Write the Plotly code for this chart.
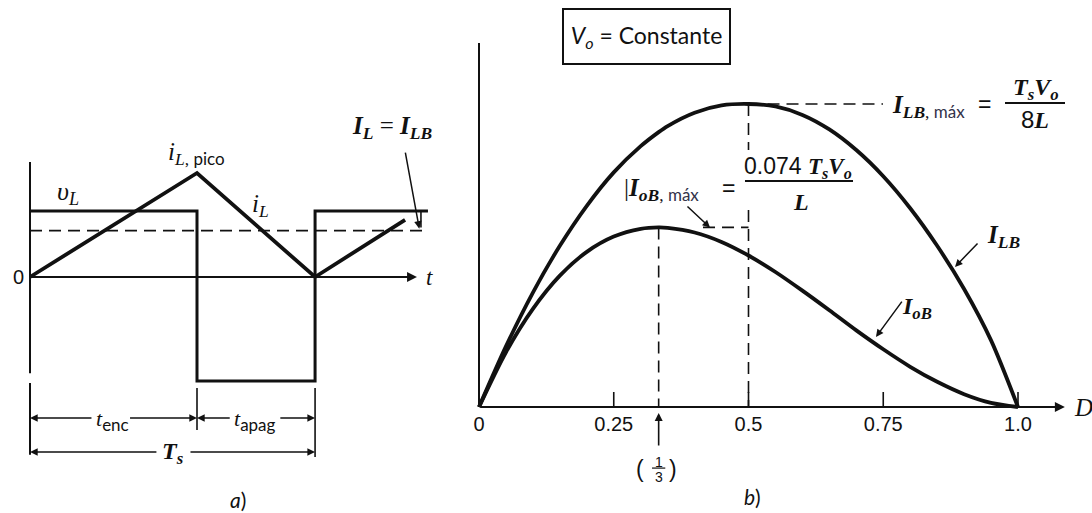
import plotly.graph_objects as go

SERIF = "Liberation Serif"
SANS = "Liberation Sans"
HUM = "Lato"
INK = "#111111"

# ---------------- panel a: inductor waveforms over one switching period ----------------
# time in units of the on-interval, amplitudes in arbitrary units
t_v = [0.0, 1.0, 1.0, 1.707, 1.707, 2.383]
v_L = [1.27, 1.27, -2.0, -2.0, 1.27, 1.27]
t_i = [0.0, 1.0, 1.707, 2.246]
i_L = [0.0, 2.0, 0.0, 1.1]
t_avg = [0.0, 2.383]
i_avg = [0.89, 0.89]
t_on_end = 1.0
t_period = 1.707

# ---------------- panel b: boundary currents vs duty ratio (units of Ts*Vo/L) ----------
duty = [0.0, 0.05, 0.10, 0.15, 0.20, 0.25, 0.30, 1 / 3, 0.35, 0.40, 0.45, 0.50,
        0.55, 0.60, 0.65, 0.70, 0.75, 0.80, 0.85, 0.90, 0.95, 1.0]
i_LB = [0.0, 0.0250, 0.0472, 0.0665, 0.0830, 0.0968, 0.1076, 0.1134, 0.1159, 0.1214, 0.1244, 0.1250,
        0.1240, 0.1205, 0.1145, 0.1060, 0.0952, 0.0820, 0.0665, 0.0487, 0.0275, 0.0]
i_oB = [0.0, 0.0226, 0.0405, 0.0542, 0.0640, 0.0703, 0.0735, 0.0741, 0.0739, 0.0720, 0.0681, 0.0625,
        0.0557, 0.0480, 0.0399, 0.0316, 0.0238, 0.0166, 0.0104, 0.0053, 0.0017, 0.0]
d_lb_max, i_lb_max = 0.5, 0.125
d_ob_max, i_ob_max = 1 / 3, 0.0741
d_ticks = [0.0, 0.25, 0.5, 0.75, 1.0]
d_tick_text = ["0", "0.25", "0.5", "0.75", "1.0"]

fig = go.Figure()

def seg(xs, ys, ref, width=2.0, dash=None, shape="linear", smoothing=1.0):
    xa, ya = ("x", "y") if ref == "a" else ("x2", "y2")
    fig.add_trace(go.Scatter(
        x=xs, y=ys, mode="lines", xaxis=xa, yaxis=ya, hoverinfo="skip",
        line=dict(color=INK, width=width, dash=dash, shape=shape, smoothing=smoothing)))

annotations = []
shapes = []

def label(x, y, text, ref, size=22, family=SERIF, xanchor="center", yanchor="middle", color=INK):
    xa, ya = ("x", "y") if ref == "a" else ("x2", "y2")
    annotations.append(dict(x=x, y=y, xref=xa, yref=ya, text=text, showarrow=False,
                            xanchor=xanchor, yanchor=yanchor,
                            font=dict(family=family, size=size, color=color)))

def arrow(xt, yt, xh, yh, ref, width=1.6, size=1.0, head=2):
    xa, ya = ("x", "y") if ref == "a" else ("x2", "y2")
    annotations.append(dict(x=xh, y=yh, ax=xt, ay=yt, xref=xa, yref=ya, axref=xa, ayref=ya,
                            text="", showarrow=True, arrowhead=head, arrowsize=size,
                            arrowwidth=width, arrowcolor=INK, standoff=0, startstandoff=0))

def line(x0, y0, x1, y1, ref, width=1.6, dash="solid"):
    xa, ya = ("x", "y") if ref == "a" else ("x2", "y2")
    shapes.append(dict(type="line", x0=x0, y0=y0, x1=x1, y1=y1, xref=xa, yref=ya,
                       line=dict(color=INK, width=width, dash=dash)))

DASH = "12px,7px"
MAX_TXT = '<span style="font-family:Lato;color:#33334a;font-size:17px">máx</span>'

# ---- panel a drawing ----
seg([0, 0], [2.21, -1.85], "a", 2.0)
seg([0, 0], [-2.04, -3.42], "a", 2.0)
arrow(0, 0, 2.317, 0, "a", width=1.8, size=1.1)
seg(t_avg, i_avg, "a", 1.8, dash=DASH)
seg(t_v, v_L, "a", 3.0)
seg(t_i, i_L, "a", 3.8)

# extension lines for the time dimensions
line(t_on_end, -2.135, t_on_end, -2.94, "a", 1.6)
line(t_period, -2.135, t_period, -3.46, "a", 1.6)
# dimension arrows
arrow(0.377, -2.712, 0, -2.712, "a", 1.4, 1.1)
arrow(0.590, -2.712, t_on_end, -2.712, "a", 1.4, 1.1)
arrow(1.205, -2.712, t_on_end, -2.712, "a", 1.4, 1.1)
arrow(1.49, -2.712, t_period, -2.712, "a", 1.4, 1.1)
arrow(0.766, -3.365, 0, -3.365, "a", 1.4, 1.1)
arrow(0.952, -3.365, t_period, -3.365, "a", 1.4, 1.1)

# average current pointer
line(2.341, 1.27, 2.341, 0.95, "a", 1.6)
arrow(2.246, 2.42, 2.331, 0.93, "a", 1.5, 1.0)

label(-0.07, 0, "0", "a", 20, SANS)
label(2.39, 0, "<i>t</i>", "a", 23)
label(0.225, 1.62, "<i>υ</i><sub><i>L</i></sub>", "a", 26)
label(0.994, 2.37, '<i>i</i><sub><i>L</i>, <span style="font-family:Lato;font-size:17px">pico</span></sub>', "a", 25)
label(1.38, 1.38, "<i>i</i><sub><i>L</i></sub>", "a", 25)
label(2.165, 2.88, "<b><i>I</i></b><sub><b><i>L</i></b></sub> = <b><i>I</i></b><sub><b><i>LB</i></b></sub>", "a", 25)
label(0.491, -2.75, '<i>t</i><sub><span style="font-family:Lato;font-size:17px">enc</span></sub>', "a", 22)
label(1.347, -2.75, '<i>t</i><sub><span style="font-family:Lato;font-size:17px">apag</span></sub>', "a", 22)
label(0.856, -3.385, "<b><i>T</i></b><sub><b><i>s</i></b></sub>", "a", 24)
label(1.246, -4.288, "<i>a</i>)", "a", 21, HUM)

# ---- panel b drawing ----
seg([0, 0], [0, 0.1502], "b", 2.0)
arrow(0, 0, 1.087, 0, "b", width=2.0, size=1.0)
tick_x, tick_y = [], []
for d in d_ticks[1:]:
    tick_x += [d, d, None]
    tick_y += [0, 0.0062, None]
seg(tick_x, tick_y, "b", 1.6)
fig.add_trace(go.Scatter(
    x=d_ticks, y=[-0.0079] * len(d_ticks), mode="text", text=d_tick_text,
    xaxis="x2", yaxis="y2", hoverinfo="skip",
    textfont=dict(family=SANS, size=20, color=INK)))

# guide lines to the maxima
line(d_lb_max, i_lb_max, 0.7495, i_lb_max, "b", 1.6, DASH)
line(d_lb_max, i_lb_max, d_lb_max, 0.106, "b", 1.6, DASH)
line(d_lb_max, 0.0813, d_lb_max, 0, "b", 1.6, DASH)
line(d_ob_max, i_ob_max, d_ob_max, 0, "b", 1.6, DASH)
line(0.4156, i_ob_max, d_lb_max, i_ob_max, "b", 1.6, DASH)

seg(duty, i_LB, "b", 3.8, shape="spline", smoothing=0.8)
seg(duty, i_oB, "b", 3.8, shape="spline", smoothing=0.8)

# I_LB,max label
label(0.7625, 0.1238, "<b><i>I</i></b><sub><b><i>LB</i></b>, " + MAX_TXT + "</sub>",
      "b", 25, xanchor="left")
label(0.937, 0.1248, "=", "b", 23, SANS)
label(1.0334, 0.1312, "<b><i>T</i></b><sub><b><i>s</i></b></sub><b><i>V</i></b><sub><b><i>o</i></b></sub>", "b", 24)
line(0.9759, 0.1254, 1.0872, 0.1254, "b", 2.0)
label(1.0315, 0.1184, '<span style="font-family:Liberation Sans">8</span><b><i>L</i></b>', "b", 24)

# I_oB,max label
label(0.2650, 0.0899, "|<b><i>I</i></b><sub><b><i>oB</i></b>, " + MAX_TXT + "</sub>",
      "b", 25, xanchor="left")
label(0.462, 0.0905, "=", "b", 23, SANS)
label(0.5918, 0.0990, '<span style="font-family:Liberation Sans">0.074 </span><b><i>T</i></b><sub><b><i>s</i></b></sub><b><i>V</i></b><sub><b><i>o</i></b></sub>', "b", 23)
line(0.4935, 0.0932, 0.6939, 0.0932, "b", 2.0)
label(0.5974, 0.0846, "<b><i>L</i></b>", "b", 24)
arrow(0.384, 0.0833, 0.4286, 0.0740, "b", 1.5, 1.0)

# curve labels
label(0.9722, 0.0705, "<b><i>I</i></b><sub><b><i>LB</i></b></sub>", "b", 25)
arrow(0.9276, 0.0681, 0.8831, 0.0578, "b", 1.5, 1.0)
label(0.813, 0.0408, "<b><i>I</i></b><sub><b><i>oB</i></b></sub>", "b", 24)
arrow(0.7866, 0.0441, 0.7365, 0.0289, "b", 1.5, 1.0)

# D axis name and 1/3 marker
label(1.1206, 0.0, "<i>D</i>", "b", 25)
arrow(d_ob_max, -0.0165, d_ob_max, -0.0025, "b", 1.6, 1.0)
label(0.2987, -0.0256, "(", "b", 23, SANS)
label(0.3600, -0.0256, ")", "b", 23, SANS)
label(d_ob_max, -0.0226, "1", "b", 14, SANS)
line(0.3210, -0.0252, 0.3456, -0.0252, "b", 1.2)
label(d_ob_max, -0.0290, "3", "b", 14, SANS)
label(0.5065, -0.0371, "<i>b</i>)", "b", 21, HUM)

# constant-output-voltage box
annotations.append(dict(x=0.3108, y=0.15285, xref="x2", yref="y2", showarrow=False,
                        text="<i>V</i><sub><i>o</i></sub> = Constante",
                        font=dict(family=HUM, size=23, color=INK),
                        width=165, height=53, borderpad=0, bordercolor=INK, borderwidth=2,
                        bgcolor="white", xanchor="center", yanchor="middle"))

axis_common = dict(visible=False, fixedrange=True, showgrid=False, zeroline=False)
fig.update_layout(
    width=1092, height=513, margin=dict(l=0, r=0, t=0, b=0),
    paper_bgcolor="white", plot_bgcolor="white", showlegend=False,
    xaxis=dict(domain=[0, 450 / 1092], range=[-0.17964, 2.51497], anchor="y", **axis_common),
    yaxis=dict(domain=[0, 1], range=[-4.5385, 5.3269], anchor="x", **axis_common),
    xaxis2=dict(domain=[450 / 1092, 1], range=[-0.0538, 1.1373], anchor="y2", **axis_common),
    yaxis2=dict(domain=[0, 1], range=[-0.04373, 0.16790], anchor="x2", **axis_common),
    annotations=annotations, shapes=shapes,
)

fig.write_html("out.html")
